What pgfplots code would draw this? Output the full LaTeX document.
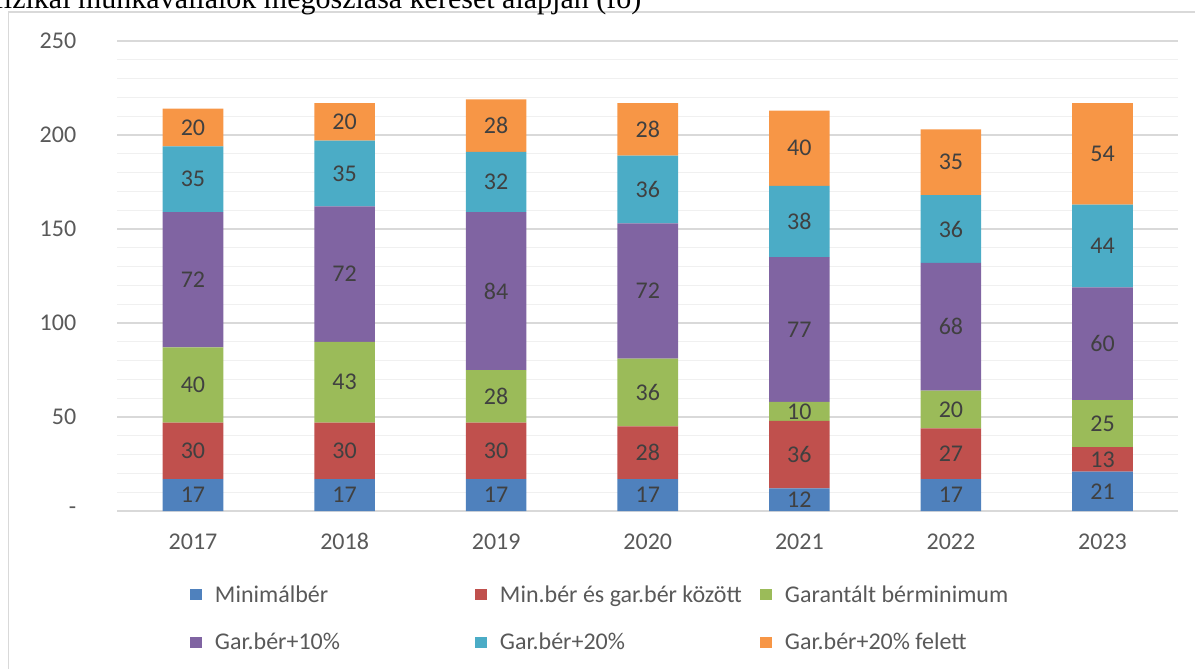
\documentclass[border=0pt]{standalone}
\usepackage{pgfplots}
\pgfplotsset{compat=1.18}
\usepackage{pgfplotstable}
\usepackage{fontspec}
\setmainfont{Carlito}
\newfontfamily\titlefont{Liberation Serif}
\definecolor{cBlue}{HTML}{4F81BD}
\definecolor{cRed}{HTML}{C0504D}
\definecolor{cGreen}{HTML}{9BBB59}
\definecolor{cPurple}{HTML}{8064A2}
\definecolor{cAqua}{HTML}{4BACC6}
\definecolor{cOrange}{HTML}{F79646}
\definecolor{tickc}{HTML}{595959}
\definecolor{labc}{HTML}{404040}
\definecolor{majgrid}{HTML}{D9D9D9}
\definecolor{mingrid}{HTML}{F0F0F0}
\pgfplotstableread{
x a b c d e f
0 17 30 40 72 35 20
1 17 30 43 72 35 20
2 17 30 28 84 32 28
3 17 28 36 72 36 28
4 12 36 10 77 38 40
5 17 27 20 68 36 35
6 21 13 25 60 44 54
}\data
\newcommand{\lt}[1]{\makebox[130bp][l]{\rule[-3bp]{0pt}{12bp}#1}}
\newcommand{\fs}{\fontsize{12bp}{14bp}\selectfont}
\begin{document}
\begin{tikzpicture}
\useasboundingbox (0,0) rectangle (597.5bp,-334.5bp);
\draw[majgrid, line width=0.6bp] (4.35bp,-340bp) -- (4.35bp,-6bp) -- (605bp,-6bp);
\node[anchor=base east, inner sep=0pt, font=\titlefont\fontsize{15bp}{18bp}\selectfont] at (320.8bp,-4.15bp) {fizikai munkavállalók megoszlása kereset alapján (fő)};
\begin{axis}[
  at={(58.6bp,-255.5bp)}, anchor=south west,
  scale only axis, width=530.55bp, height=235bp,
  ybar stacked, bar width=0.4,
  xmin=-0.5, xmax=6.5, ymin=0, ymax=250,
  xtick={0,...,6}, xticklabels={2017,2018,2019,2020,2021,2022,2023},
  ytick={0,50,...,250}, yticklabels={-,50,100,150,200,250},
  minor ytick={10,20,...,240},
  ymajorgrids, yminorgrids,
  major grid style={majgrid, line width=0.65bp},
  minor grid style={mingrid, line width=0.65bp},
  axis line style={draw=none},
  major tick length=0pt, minor tick length=0pt,
  tick label style={font=\fs, text=tickc},
  yticklabel style={xshift=-17bp},
  xticklabel style={anchor=base, yshift=-19bp},
  point meta=explicit symbolic,
  nodes near coords={\pgfplotspointmeta},
  every node near coord/.append style={font=\fs, text=labc, anchor=center},
  legend columns=3,
  legend cell align=left,
  legend style={at={(0.0686,-0.1553)}, anchor=north west, draw=none, fill=none, inner sep=0pt, outer sep=0pt, font=\fs, text=tickc, row sep=13.5bp, nodes={inner sep=0pt}, /tikz/every odd column/.append style={column sep=6.35bp}},
  legend image code/.code={\fill[#1] (0bp,-2.75bp) rectangle (6.15bp,2.75bp);},
]
\addplot[fill=cBlue, draw=none] table[x=x,y=a,meta=a]{\data};
\addlegendentry{\lt{Minimálbér}}
\addplot[fill=cRed, draw=none] table[x=x,y=b,meta=b]{\data};
\addlegendentry{\lt{Min.bér és gar.bér között}}
\addplot[fill=cGreen, draw=none] table[x=x,y=c,meta=c]{\data};
\addlegendentry{\lt{Garantált bérminimum}}
\addplot[fill=cPurple, draw=none] table[x=x,y=d,meta=d]{\data};
\addlegendentry{\lt{Gar.bér+10\%}}
\addplot[fill=cAqua, draw=none] table[x=x,y=e,meta=e]{\data};
\addlegendentry{\lt{Gar.bér+20\%}}
\addplot[fill=cOrange, draw=none] table[x=x,y=f,meta=f]{\data};
\addlegendentry{\lt{Gar.bér+20\% felett}}
\end{axis}
\end{tikzpicture}
\end{document}
